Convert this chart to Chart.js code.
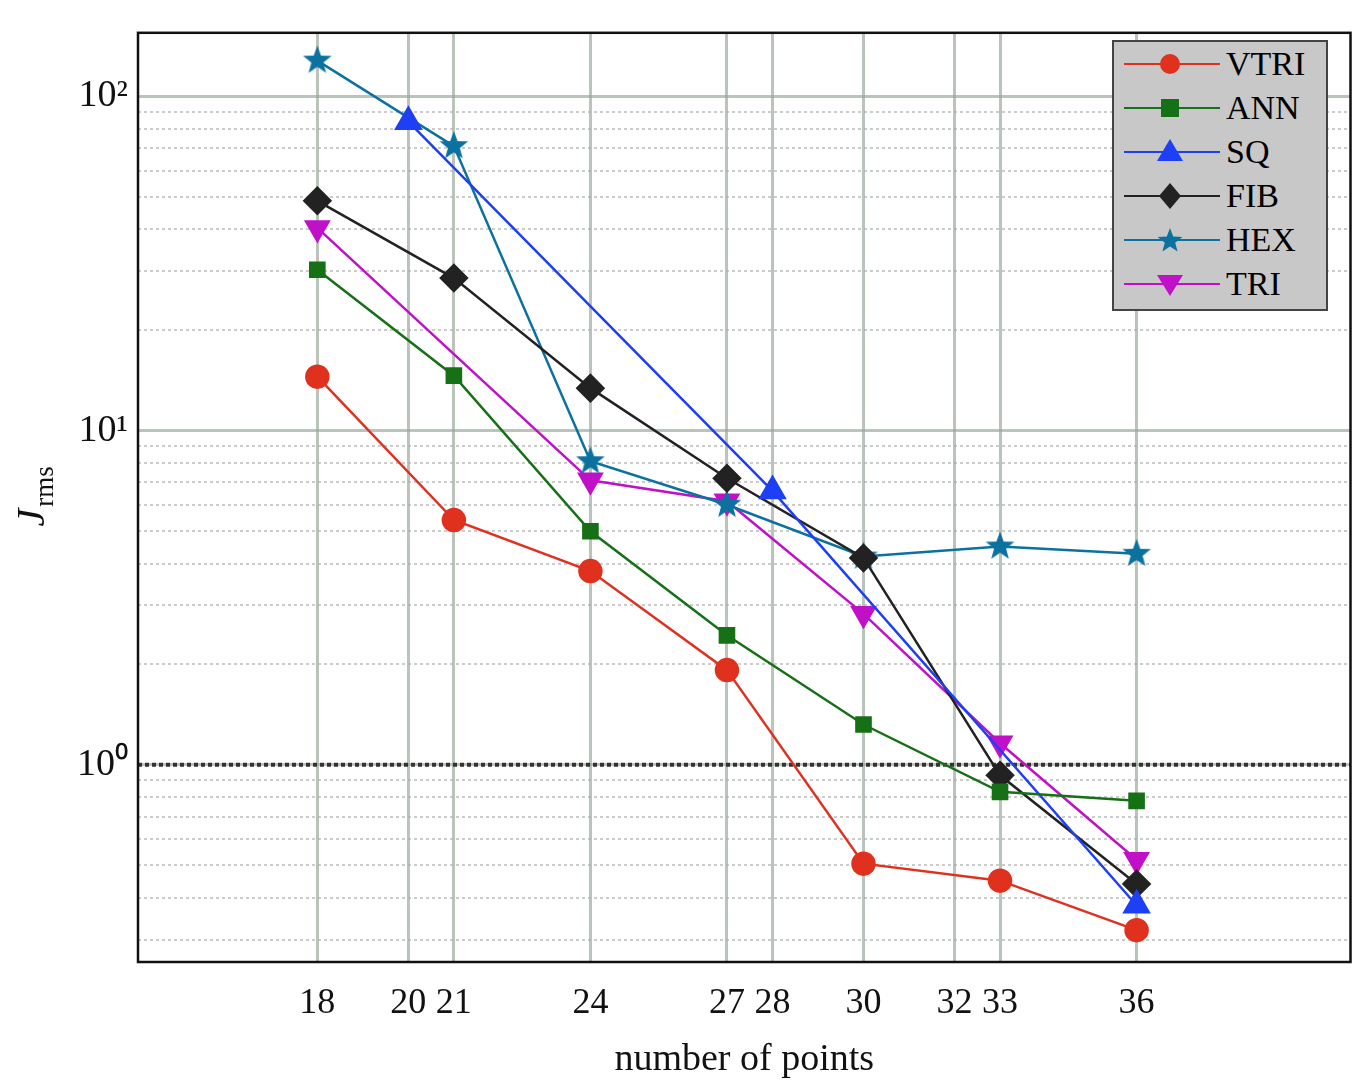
<!DOCTYPE html>
<html>
<head>
<meta charset="utf-8">
<script src="https://cdn.jsdelivr.net/npm/chart.js@4"></script>
<style>
  body { margin: 0; background: #fff; }
  #wrap { position: relative; width: 1368px; height: 1087px; }
  #legend { position: absolute; left: 1112px; top: 40px; width: 212px; height: 267px;
    background: #c8c8c8; border: 2px solid #444; font-family: "Liberation Serif", serif;
    font-size: 34px; box-sizing: content-box; }
  #legend div { height: 44px; display: flex; align-items: center; padding-left: 6px; }
  #legend svg { margin-right: 6px; }
</style>
</head>
<body>
<div id="wrap">
  <canvas id="canvas" width="1368" height="1087"></canvas>
  <div id="legend"></div>
</div>
<script>
var xTicks = [18, 20, 21, 24, 27, 28, 30, 32, 33, 36];

var vtriX = [18, 21, 24, 27, 30, 33, 36];
var vtriY = [14.5, 5.4, 3.8, 1.92, 0.506, 0.45, 0.32];
var annX = [18, 21, 24, 27, 30, 33, 36];
var annY = [30.3, 14.6, 5.0, 2.44, 1.32, 0.83, 0.78];
var sqX = [20, 28, 36];
var sqY = [84, 6.6, 0.38];
var fibX = [18, 21, 24, 27, 30, 33, 36];
var fibY = [48.7, 28.6, 13.4, 7.2, 4.16, 0.93, 0.44];
var hexX = [18, 21, 24, 27, 30, 33, 36];
var hexY = [128, 71, 8.1, 6.0, 4.2, 4.5, 4.28];
var triX = [18, 24, 27, 30, 33, 36];
var triY = [40.4, 7.1, 6.15, 2.83, 1.16, 0.52];

var xMin = 14.06, xMax = 40.7, yMin = 0.257, yMax = 155;

function pts(xs, ys) {
  return xs.map(function (x, i) { return { x: x, y: ys[i] }; });
}

function starImage(color, r) {
  var c = document.createElement('canvas');
  c.width = c.height = r * 2 + 2;
  var g = c.getContext('2d');
  g.beginPath();
  for (var i = 0; i < 10; i++) {
    var a = -Math.PI / 2 + i * Math.PI / 5;
    var rr = i % 2 ? r * 0.42 : r;
    g.lineTo(r + 1 + rr * Math.cos(a), r + 1 + rr * Math.sin(a));
  }
  g.closePath();
  g.fillStyle = color;
  g.fill();
  return c;
}

var series = [
  { label: 'VTRI', xs: vtriX, ys: vtriY, color: '#e0301e', style: 'circle', r: 11, rot: 0 },
  { label: 'ANN', xs: annX, ys: annY, color: '#167016', style: 'rect', r: 10, rot: 0 },
  { label: 'SQ', xs: sqX, ys: sqY, color: '#1d3ff5', style: 'triangle', r: 14, rot: 0 },
  { label: 'FIB', xs: fibX, ys: fibY, color: '#222222', style: 'rectRot', r: 13, rot: 0 },
  { label: 'HEX', xs: hexX, ys: hexY, color: '#0b72a0', style: starImage('#0b72a0', 15), r: 15, rot: 0 },
  { label: 'TRI', xs: triX, ys: triY, color: '#c010c8', style: 'triangle', r: 13, rot: 180 }
];

var datasets = [{
  data: [{ x: xMin, y: 1 }, { x: xMax, y: 1 }],
  borderColor: '#333', borderWidth: 4, borderDash: [4, 3], pointRadius: 0, order: 10
}];
series.forEach(function (s) {
  datasets.push({
    label: s.label, data: pts(s.xs, s.ys), borderColor: s.color, backgroundColor: s.color,
    borderWidth: 2.5, pointStyle: s.style, pointRadius: s.r, pointRotation: s.rot, order: 1
  });
});

var decades = [0.1, 1, 10, 100, 1000];
function logTicks() {
  var t = [];
  for (var e = -1; e <= 2; e++) {
    for (var m = 1; m <= 9; m++) {
      var v = m * Math.pow(10, e);
      if (v >= yMin && v <= yMax) t.push({ value: v });
    }
  }
  return t;
}
function isMajor(v) { return decades.some(function (d) { return Math.abs(v - d) < 1e-9; }); }
var sup = { '0': '10\u2070', '1': '10\u00b9', '2': '10\u00b2' };

var framePlugin = {
  id: 'frame',
  afterDraw: function (chart) {
    var a = chart.chartArea, g = chart.ctx;
    g.save();
    g.strokeStyle = '#111';
    g.lineWidth = 2.5;
    g.strokeRect(a.left, a.top, a.right - a.left, a.bottom - a.top);
    // y axis title: J with subscript rms
    g.translate(44, (a.top + a.bottom) / 2);
    g.rotate(-Math.PI / 2);
    g.fillStyle = '#111';
    g.textBaseline = 'alphabetic';
    g.font = 'italic 40px "Liberation Serif"';
    var w = g.measureText('J').width;
    g.font = '27px "Liberation Serif"';
    var w2 = g.measureText('rms').width;
    var x0 = -(w + w2) / 2;
    g.font = 'italic 40px "Liberation Serif"';
    g.fillText('J', x0, 0);
    g.font = '27px "Liberation Serif"';
    g.fillText('rms', x0 + w + 2, 9);
    g.restore();
  }
};

var gridCol = 'rgba(150,165,150,0.65)';

new Chart(document.getElementById('canvas').getContext('2d'), {
  type: 'line',
  data: { datasets: datasets },
  plugins: [framePlugin],
  options: {
    responsive: false, animation: false,
    layout: { padding: { top: -6, right: 8, left: 0, bottom: 0 } },
    plugins: { legend: { display: false }, tooltip: { enabled: false } },
    scales: {
      x: {
        type: 'linear', min: xMin, max: xMax,
        afterBuildTicks: function (s) { s.ticks = xTicks.map(function (v) { return { value: v }; }); },
        afterFit: function (s) { s.height = 125; },
        grid: { color: gridCol, lineWidth: 3, drawTicks: false },
        border: { display: false },
        ticks: { color: '#111', font: { family: 'Liberation Serif', size: 36 }, padding: 20, maxRotation: 0, autoSkip: false },
        title: { display: true, text: 'number of points', color: '#111', font: { family: 'Liberation Serif', size: 38 }, padding: { top: -8 } }
      },
      y: {
        type: 'logarithmic', min: yMin, max: yMax,
        afterBuildTicks: function (s) { s.ticks = logTicks(); },
        afterFit: function (s) { s.width = 138; },
        grid: {
          color: function (c) { return isMajor(c.tick.value) ? 'rgba(0,0,0,0)' : 'rgba(170,170,170,0.6)'; },
          lineWidth: 2, drawTicks: false
        },
        border: { display: false, dash: [3, 3] },
        ticks: {
          color: '#111', font: { family: 'Liberation Serif', size: 38 }, padding: 10, autoSkip: false,
          callback: function (v) {
            if (!isMajor(v)) return '';
            return sup[String(Math.round(Math.log10(v)))] || '';
          }
        }
      },
      y2: {
        type: 'logarithmic', min: yMin, max: yMax, position: 'left', display: true,
        afterBuildTicks: function (s) { s.ticks = [{ value: 1 }, { value: 10 }, { value: 100 }]; },
        afterFit: function (s) { s.width = 0; },
        grid: { color: gridCol, lineWidth: 3, drawTicks: false },
        border: { display: false },
        ticks: { display: false }
      }
    }
  }
});

// legend
var leg = document.getElementById('legend');
series.forEach(function (s) {
  var row = document.createElement('div');
  var m;
  var c = s.color;
  if (s.label === 'VTRI') m = '<circle cx="50" cy="20" r="10" fill="' + c + '"/>';
  else if (s.label === 'ANN') m = '<rect x="41" y="11" width="18" height="18" fill="' + c + '"/>';
  else if (s.label === 'SQ') m = '<polygon points="50,7 63,29 37,29" fill="' + c + '"/>';
  else if (s.label === 'FIB') m = '<polygon points="50,7 61,20 50,33 39,20" fill="' + c + '"/>';
  else if (s.label === 'HEX') {
    var p = [];
    for (var i = 0; i < 10; i++) {
      var a = -Math.PI / 2 + i * Math.PI / 5, rr = i % 2 ? 5.5 : 13;
      p.push((50 + rr * Math.cos(a)).toFixed(1) + ',' + (21 + rr * Math.sin(a)).toFixed(1));
    }
    m = '<polygon points="' + p.join(' ') + '" fill="' + c + '"/>';
  } else m = '<polygon points="37,11 63,11 50,32" fill="' + c + '"/>';
  row.innerHTML = '<svg width="100" height="40"><line x1="4" y1="20" x2="100" y2="20" stroke="' + c + '" stroke-width="2"/>' + m + '</svg>' + s.label;
  leg.appendChild(row);
});
</script>
</body>
</html>
